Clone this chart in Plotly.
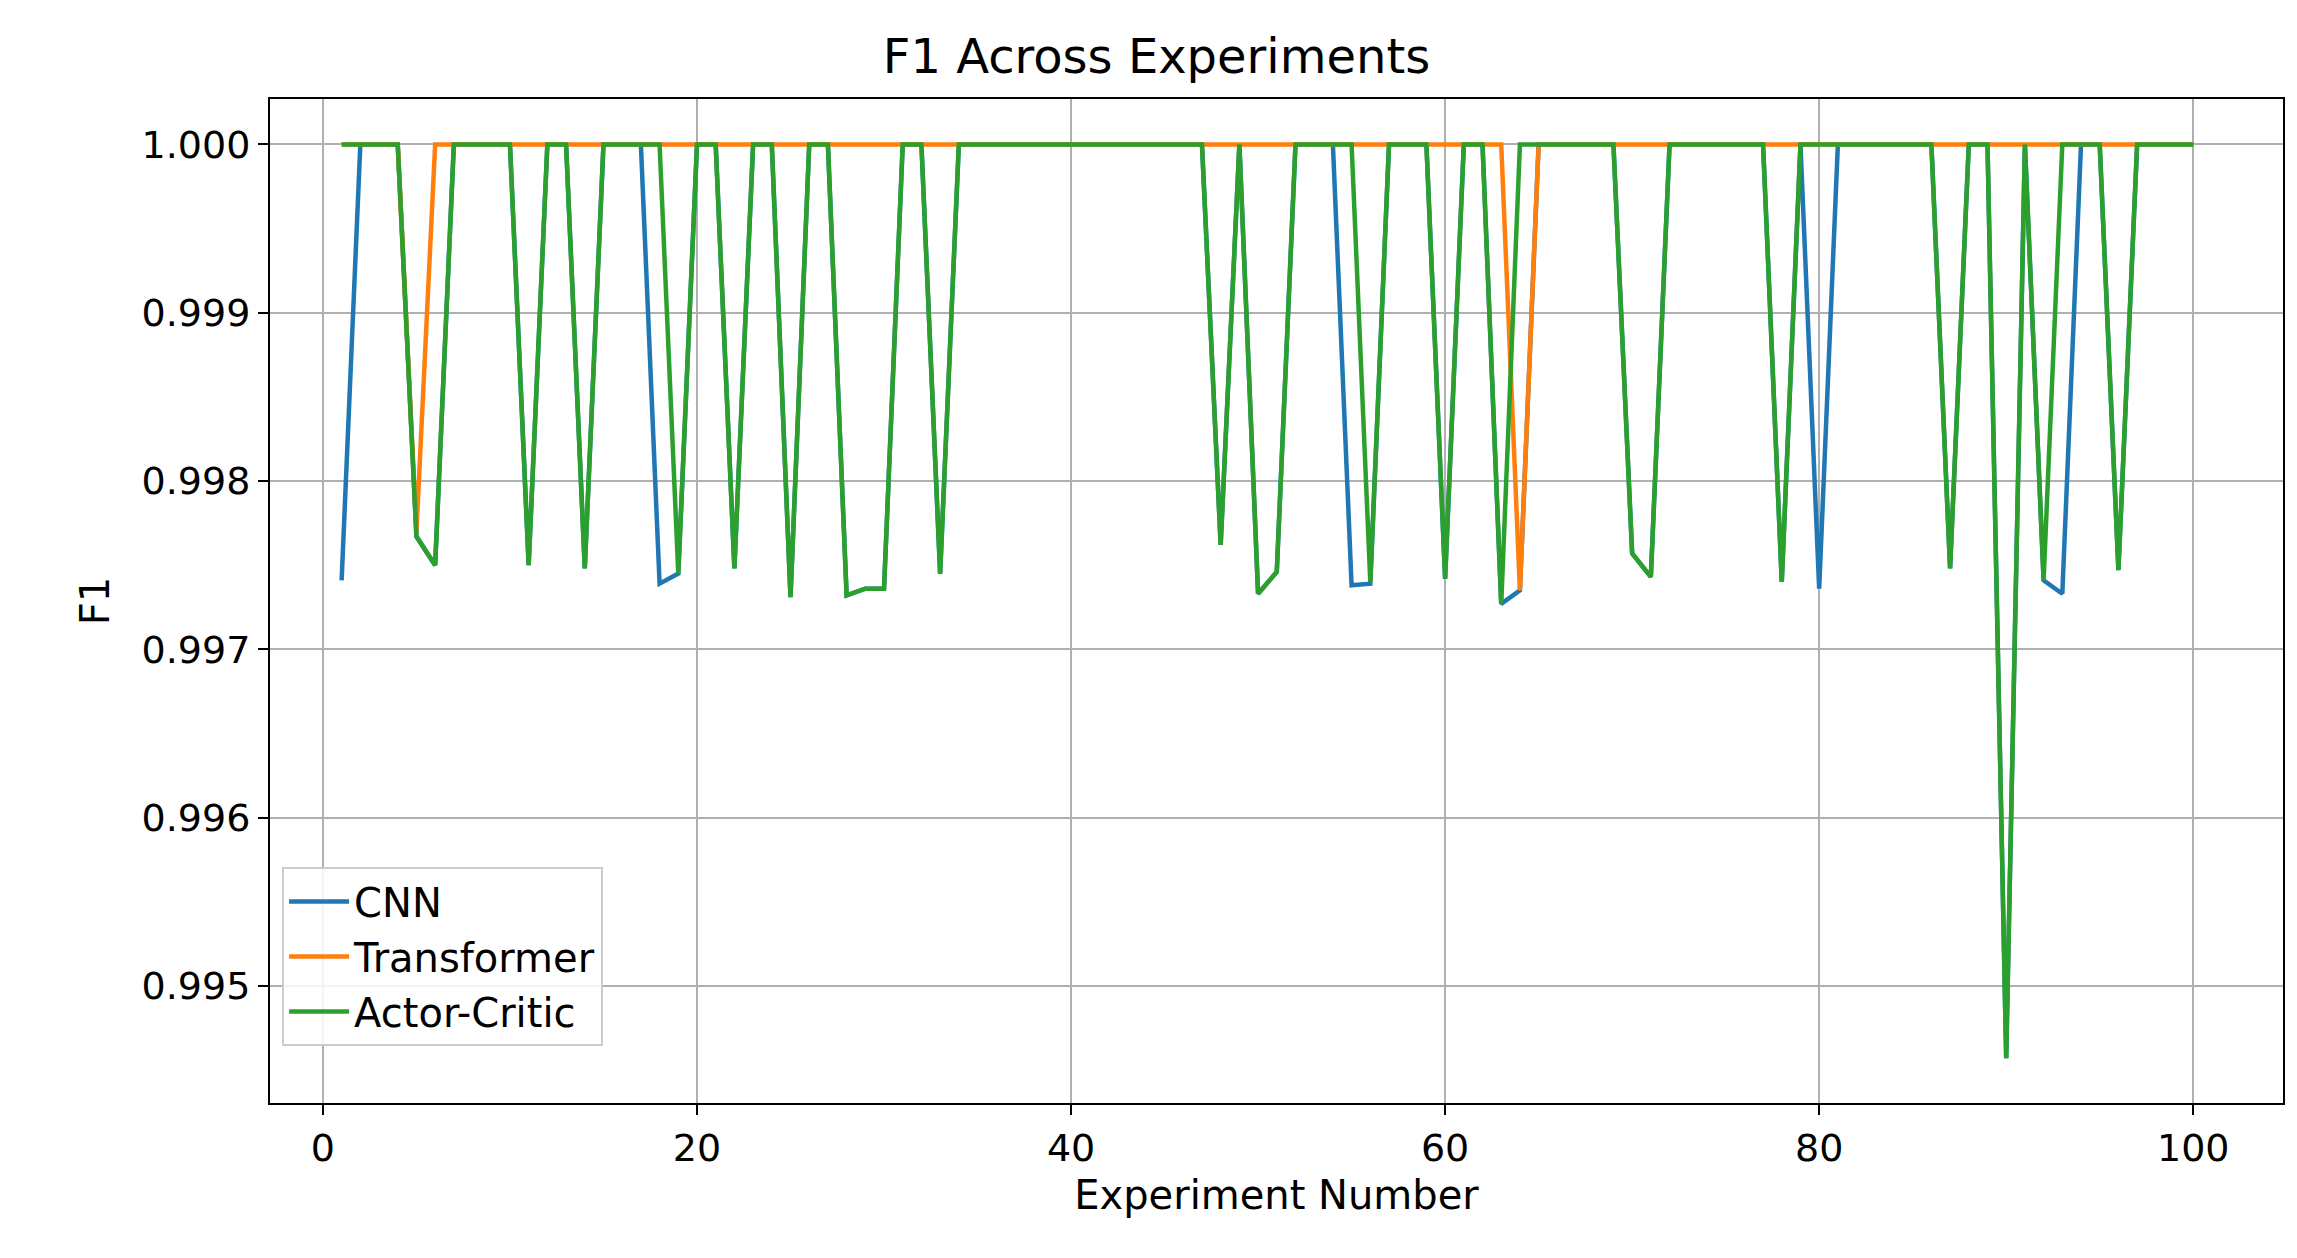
import plotly.graph_objects as go

experiments = list(range(1, 101))

cnn = [0.99741, 1, 1, 1, 0.99767, 0.99750, 1, 1, 1, 1,
       0.99750, 1, 1, 0.99748, 1, 1, 1, 0.99739, 0.99745, 1,
       1, 0.99748, 1, 1, 0.99731, 1, 1, 0.99732, 0.99736, 0.99736,
       1, 1, 0.99745, 1, 1, 1, 1, 1, 1, 1,
       1, 1, 1, 1, 1, 1, 1, 0.99762, 1, 0.99733,
       0.99746, 1, 1, 1, 0.99738, 0.99739, 1, 1, 1, 0.99742,
       1, 1, 0.99727, 0.99735, 1, 1, 1, 1, 1, 0.99757,
       0.99743, 1, 1, 1, 1, 1, 1, 0.99740, 1, 0.99736,
       1, 1, 1, 1, 1, 1, 0.99748, 1, 1, 0.99457,
       1, 0.99741, 0.99733, 1, 1, 0.99747, 1, 1, 1, 1]

transformer = [1, 1, 1, 1, 0.99770, 1, 1, 1, 1, 1,
               1, 1, 1, 1, 1, 1, 1, 1, 1, 1,
               1, 1, 1, 1, 1, 1, 1, 1, 1, 1,
               1, 1, 1, 1, 1, 1, 1, 1, 1, 1,
               1, 1, 1, 1, 1, 1, 1, 1, 1, 1,
               1, 1, 1, 1, 1, 1, 1, 1, 1, 1,
               1, 1, 1, 0.99735, 1, 1, 1, 1, 1, 1,
               1, 1, 1, 1, 1, 1, 1, 1, 1, 1,
               1, 1, 1, 1, 1, 1, 1, 1, 1, 1,
               1, 1, 1, 1, 1, 1, 1, 1, 1, 1]

actor_critic = [1, 1, 1, 1, 0.99767, 0.99750, 1, 1, 1, 1,
                0.99750, 1, 1, 0.99748, 1, 1, 1, 1, 0.99745, 1,
                1, 0.99748, 1, 1, 0.99731, 1, 1, 0.99732, 0.99736, 0.99736,
                1, 1, 0.99745, 1, 1, 1, 1, 1, 1, 1,
                1, 1, 1, 1, 1, 1, 1, 0.99762, 1, 0.99733,
                0.99746, 1, 1, 1, 1, 0.99740, 1, 1, 1, 0.99742,
                1, 1, 0.99727, 1, 1, 1, 1, 1, 1, 0.99757,
                0.99743, 1, 1, 1, 1, 1, 1, 0.99740, 1, 1,
                1, 1, 1, 1, 1, 1, 0.99748, 1, 1, 0.99457,
                1, 0.99741, 1, 1, 1, 0.99747, 1, 1, 1, 1]

series = [("CNN", cnn, "#1f77b4"), ("Transformer", transformer, "#ff7f0e"),
          ("Actor-Critic", actor_critic, "#2ca02c")]

fig = go.Figure()
for name, vals, col in series:
    fig.add_trace(go.Scatter(x=experiments, y=vals, mode="lines", name=name,
                             line=dict(color=col, width=4.5)))

font = "DejaVu Sans"
axis_common = dict(showgrid=True, gridcolor="#b0b0b0", gridwidth=2,
                   showline=True, linecolor="black", linewidth=2, mirror=True,
                   ticks="outside", ticklen=10, tickwidth=2, tickcolor="black",
                   tickfont=dict(size=38, color="black", family=font),
                   zeroline=False)
fig.update_layout(
    width=2297, height=1258,
    paper_bgcolor="white", plot_bgcolor="white",
    margin=dict(l=262, r=22, t=91, b=163),
    title=dict(text="F1 Across Experiments", x=0.5, xanchor="center", y=0.975,
               font=dict(size=48, color="black", family=font)),
    xaxis=dict(range=[-2.83, 104.8], tickvals=[0, 20, 40, 60, 80, 100],
               title=dict(text="Experiment Number", standoff=12,
                          font=dict(size=40, color="black", family=font)),
               **axis_common),
    yaxis=dict(range=[0.994304, 1.00027],
               tickvals=[0.995, 0.996, 0.997, 0.998, 0.999, 1.0], tickformat=".3f",
               title=dict(text="F1", standoff=20, font=dict(size=40, color="black", family=font)),
               **axis_common),
    legend=dict(x=0.006, y=0.235, xanchor="left", yanchor="top", itemwidth=60,
                bgcolor="rgba(255,255,255,0.85)", bordercolor="#cccccc", borderwidth=2,
                font=dict(size=40, color="black", family=font), tracegroupgap=6),
    showlegend=True,
)
fig.write_html("out.html")
